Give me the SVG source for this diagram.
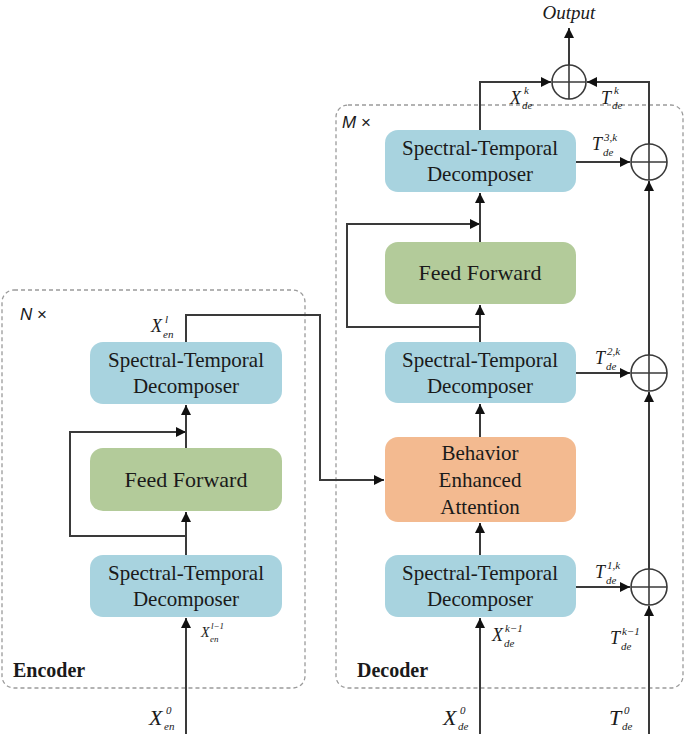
<svg xmlns="http://www.w3.org/2000/svg" width="685" height="734" viewBox="0 0 685 734">
<style>
.bg{fill:#ffffff}
.frame{fill:none;stroke:#9a9a9a;stroke-width:1.3;stroke-dasharray:4 3}
.std{fill:#a8d3df}
.ff{fill:#b3cb9a}
.bea{fill:#f3ba90}
.lbl{font-family:"Liberation Serif","Times New Roman",serif;font-size:21px;fill:#1a1a1a;text-anchor:middle}
.ffl{font-family:"Liberation Serif","Times New Roman",serif;font-size:22px;fill:#1a1a1a;text-anchor:middle}
.ln{fill:none;stroke:#3a3a3a;stroke-width:2}
.arr{marker-end:url(#ah)}
.plus{fill:#ffffff;stroke:#3a3a3a;stroke-width:1.6}
.pl{stroke:#3a3a3a;stroke-width:1.6}
.m{font-family:"Liberation Serif","Times New Roman",serif;font-style:italic;fill:#1a1a1a}
.big{font-size:22px}
.mid{font-size:18px}
.sm{font-size:11px}
.xs{font-size:9px}
.tiny{font-size:14px}
.title{font-family:"Liberation Serif","Times New Roman",serif;font-weight:bold;font-size:20px;fill:#1a1a1a}
.rep{font-family:"Liberation Sans",Arial,sans-serif;font-size:17px;fill:#1a1a1a}
</style>
<defs>
<marker id="ah" viewBox="0 0 10 10" refX="10" refY="5" markerWidth="11" markerHeight="10" markerUnits="userSpaceOnUse" orient="auto">
<path d="M0,0 L10,5 L0,10 z" fill="#111"/>
</marker>
</defs>
<rect class="bg" x="0" y="0" width="685" height="734"/>

<g id="encoder-frame">
<rect class="frame" x="2" y="290" width="303" height="398" rx="12"/>
<text class="rep" x="20" y="320"><tspan font-style="italic">N</tspan> ×</text>
<text class="title" x="13" y="677">Encoder</text>
</g>
<g id="decoder-frame">
<rect class="frame" x="336" y="105" width="347" height="583" rx="12"/>
<text class="rep" x="342" y="128"><tspan font-style="italic">M</tspan> ×</text>
<text class="title" x="357" y="677">Decoder</text>
</g>

<g id="connectors">
<line class="ln arr" x1="186" y1="734" x2="186" y2="618"/>
<line class="ln arr" x1="186" y1="555" x2="186" y2="512"/>
<polyline class="ln arr" points="186,536 70,536 70,432 186,432"/>
<line class="ln arr" x1="186" y1="448" x2="186" y2="405"/>
<polyline class="ln arr" points="186,342 186,315 320,315 320,480 384,480"/>
<line class="ln arr" x1="480" y1="734" x2="480" y2="618"/>
<line class="ln arr" x1="480" y1="555" x2="480" y2="523"/>
<line class="ln arr" x1="480" y1="437" x2="480" y2="404"/>
<line class="ln arr" x1="480" y1="342" x2="480" y2="305"/>
<polyline class="ln arr" points="480,327 347,327 347,224 480,224"/>
<line class="ln arr" x1="480" y1="242" x2="480" y2="193"/>
<polyline class="ln arr" points="480,130 480,82 551,82"/>
<line class="ln arr" x1="576" y1="587" x2="630" y2="587"/>
<line class="ln arr" x1="576" y1="373" x2="630" y2="373"/>
<line class="ln arr" x1="576" y1="162" x2="630" y2="162"/>
<line class="ln arr" x1="649" y1="734" x2="649" y2="606"/>
<line class="ln arr" x1="649" y1="569" x2="649" y2="392"/>
<line class="ln arr" x1="649" y1="355" x2="649" y2="181"/>
<polyline class="ln arr" points="649,144 649,82 587,82"/>
<line class="ln arr" x1="569" y1="65" x2="569" y2="28"/>
</g>

<g id="enc-std-top">
<rect class="std" x="90" y="342" width="192" height="62" rx="13"/>
<text class="lbl" x="186" y="367">Spectral-Temporal</text>
<text class="lbl" x="186" y="393">Decomposer</text>
</g>
<g id="enc-ff">
<rect class="ff" x="90" y="448" width="192" height="63" rx="13"/>
<text class="ffl" x="186" y="487">Feed Forward</text>
</g>
<g id="enc-std-bottom">
<rect class="std" x="90" y="555" width="192" height="62" rx="13"/>
<text class="lbl" x="186" y="580">Spectral-Temporal</text>
<text class="lbl" x="186" y="606">Decomposer</text>
</g>

<g id="dec-std-top">
<rect class="std" x="385" y="130" width="191" height="62" rx="13"/>
<text class="lbl" x="480" y="155">Spectral-Temporal</text>
<text class="lbl" x="480" y="181">Decomposer</text>
</g>
<g id="dec-ff">
<rect class="ff" x="385" y="242" width="191" height="62" rx="13"/>
<text class="ffl" x="480" y="280">Feed Forward</text>
</g>
<g id="dec-std-mid">
<rect class="std" x="385" y="342" width="191" height="61" rx="13"/>
<text class="lbl" x="480" y="367">Spectral-Temporal</text>
<text class="lbl" x="480" y="393">Decomposer</text>
</g>
<g id="dec-bea">
<rect class="bea" x="385" y="437" width="191" height="85" rx="13"/>
<text class="lbl" x="480" y="460">Behavior</text>
<text class="lbl" x="480" y="487">Enhanced</text>
<text class="lbl" x="480" y="514">Attention</text>
</g>
<g id="dec-std-bottom">
<rect class="std" x="385" y="555" width="191" height="62" rx="13"/>
<text class="lbl" x="480" y="580">Spectral-Temporal</text>
<text class="lbl" x="480" y="606">Decomposer</text>
</g>

<g id="add-3">
<circle class="plus" cx="649" cy="162" r="18"/>
<line class="pl" x1="631" y1="162" x2="667" y2="162"/><line class="pl" x1="649" y1="144" x2="649" y2="180"/>
</g>
<g id="add-2">
<circle class="plus" cx="649" cy="373" r="18"/>
<line class="pl" x1="631" y1="373" x2="667" y2="373"/><line class="pl" x1="649" y1="355" x2="649" y2="391"/>
</g>
<g id="add-1">
<circle class="plus" cx="649" cy="587" r="18"/>
<line class="pl" x1="631" y1="587" x2="667" y2="587"/><line class="pl" x1="649" y1="569" x2="649" y2="605"/>
</g>
<g id="add-out">
<circle class="plus" cx="569" cy="82" r="17"/>
<line class="pl" x1="552" y1="82" x2="586" y2="82"/><line class="pl" x1="569" y1="65" x2="569" y2="99"/>
</g>

<g id="output-label">
<text class="m" x="569" y="19" font-size="19" text-anchor="middle">Output</text>
</g>

<g id="labels">
<text class="m"><tspan class="mid" x="510" y="104">X</tspan><tspan class="sm" x="524" y="94">k</tspan><tspan class="sm" x="522" y="109">de</tspan></text>
<text class="m"><tspan class="mid" x="601" y="104">T</tspan><tspan class="sm" x="614" y="94">k</tspan><tspan class="sm" x="612" y="109">de</tspan></text>
<text class="m"><tspan class="mid" x="592" y="150">T</tspan><tspan class="sm" x="604" y="141">3,k</tspan><tspan class="sm" x="603" y="156">de</tspan></text>
<text class="m"><tspan class="mid" x="595" y="364">T</tspan><tspan class="sm" x="607" y="355">2,k</tspan><tspan class="sm" x="606" y="370">de</tspan></text>
<text class="m"><tspan class="mid" x="595" y="578">T</tspan><tspan class="sm" x="607" y="569">1,k</tspan><tspan class="sm" x="606" y="584">de</tspan></text>
<text class="m"><tspan class="mid" x="492" y="641">X</tspan><tspan class="sm" x="505" y="632">k−1</tspan><tspan class="sm" x="504" y="647">de</tspan></text>
<text class="m"><tspan class="mid" x="610" y="644">T</tspan><tspan class="sm" x="622" y="635">k−1</tspan><tspan class="sm" x="621" y="650">de</tspan></text>
<text class="m"><tspan class="big" x="443" y="725">X</tspan><tspan class="sm" x="460" y="714">0</tspan><tspan class="sm" x="458" y="730">de</tspan></text>
<text class="m"><tspan class="big" x="609" y="725">T</tspan><tspan class="sm" x="624" y="714">0</tspan><tspan class="sm" x="622" y="730">de</tspan></text>
<text class="m"><tspan class="big" x="149" y="725">X</tspan><tspan class="sm" x="166" y="714">0</tspan><tspan class="sm" x="164" y="730">en</tspan></text>
<text class="m"><tspan class="mid" x="151" y="332">X</tspan><tspan class="sm" x="165" y="323">l</tspan><tspan class="sm" x="163" y="338">en</tspan></text>
<text class="m"><tspan class="tiny" x="201" y="637">X</tspan><tspan class="xs" x="211" y="629">l−1</tspan><tspan class="xs" x="210" y="642">en</tspan></text>
</g>
</svg>
